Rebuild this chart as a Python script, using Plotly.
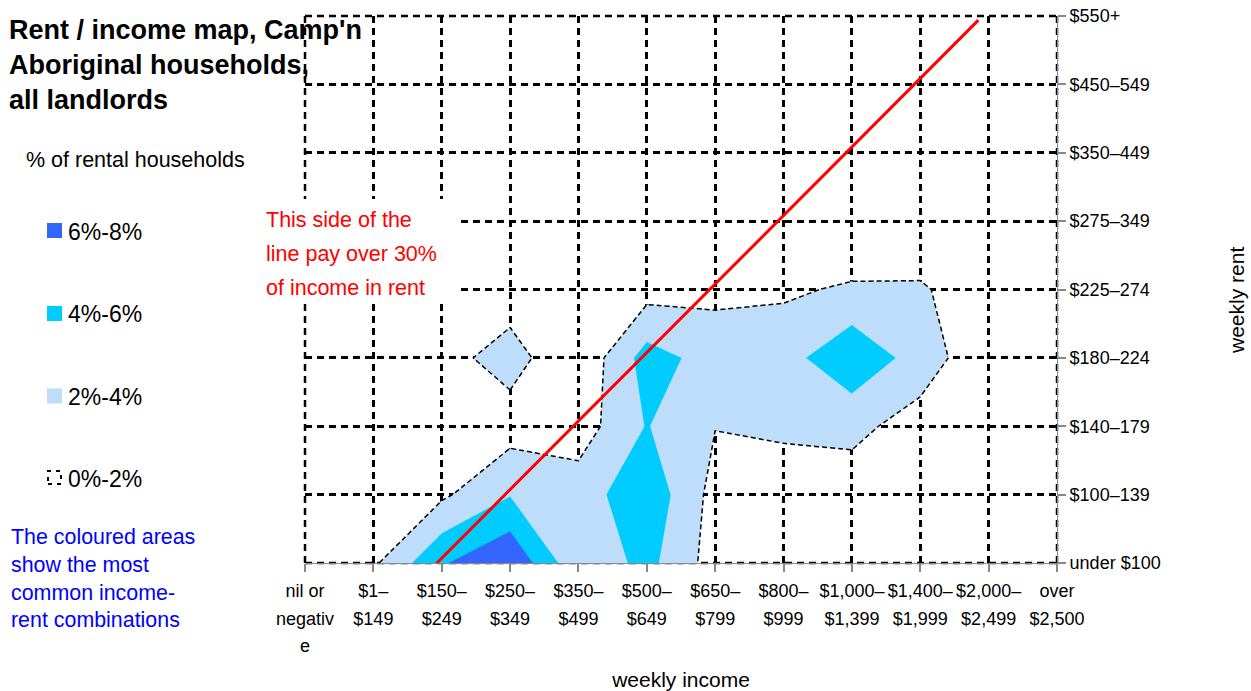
import plotly.graph_objects as go

# ---------------- data ----------------
income_labels = ["nil or<br>negativ<br>e", "$1–<br>$149", "$150–<br>$249", "$250–<br>$349",
                 "$350–<br>$499", "$500–<br>$649", "$650–<br>$799", "$800–<br>$999",
                 "$1,000–<br>$1,399", "$1,400–<br>$1,999", "$2,000–<br>$2,499", "over<br>$2,500"]
rent_labels = ["under $100", "$100–139", "$140–179", "$180–224", "$225–274",
               "$275–349", "$350–449", "$450–549", "$550+"]

# % of rental households, rows = rent bands (bottom to top), cols = income bands
share_pct = [
    [0.5, 1.65, 5.8, 7.8, 2.4, 4.62, 1.1, 0.3, 0.3, 0.2, 0.2, 0.2],
    [0.4, 1.2, 1.64, 3.9, 2.98, 5.46, 1.29, 0.2, 1.0, 0.5, 0.2, 0.2],
    [0.3, 0.3, 0.6, 1.1, 1.0, 4.1, 2.05, 2.6, 2.53, 1.17, 0.3, 0.2],
    [0.2, 0.3, 1.32, 2.8, 0.3, 4.85, 3.18, 3.2, 5.6, 3.1, 0.42, 0.2],
    [0.2, 0.2, 0.5, 1.0, 0.3, 1.2, 1.49, 1.7, 2.27, 2.3, 0.43, 0.2],
    [0.2, 0.2, 0.3, 0.3, 0.3, 0.5, 0.5, 0.5, 0.0, 0.0, 0.2, 0.2],
    [0.2, 0.2, 0.2, 0.2, 0.2, 0.2, 0.2, 0.2, 0.2, 0.2, 0.2, 0.2],
    [0.1, 0.1, 0.1, 0.1, 0.1, 0.1, 0.1, 0.1, 0.1, 0.1, 0.1, 0.1],
    [0.1, 0.1, 0.1, 0.1, 0.1, 0.1, 0.1, 0.1, 0.1, 0.1, 0.1, 0.1],
]

band_names = ["6%-8%", "4%-6%", "2%-4%", "0%-2%"]
band_colors = ["#3366FF", "#00CCFF", "#BDDDFB", "rgba(255,255,255,0)"]

# 30%-of-income reference line (category coordinates)
line30_income = [1.87, 9.85]
line30_rent = [-0.06, 7.94]

# ---------------- figure ----------------
FONT = "Liberation Sans, Arial, sans-serif"
W, H = 1251, 691
L, R, T, B = 305, 194, 16, 128
PW, PH = W - L - R, H - T - B


def px(x):
    return (x - L) / PW


def py(y):
    return (H - B - y) / PH


xs = list(range(len(income_labels)))
ys = list(range(len(rent_labels)))

clear, light, cyan, blue = band_colors[3], band_colors[2], band_colors[1], band_colors[0]
cscale = [[0, clear], [1 / 6, clear], [1 / 6, light], [0.5, light],
          [0.5, cyan], [5 / 6, cyan], [5 / 6, blue], [1, blue]]

fig = go.Figure()
fig.add_trace(go.Contour(
    z=share_pct, x=xs, y=ys,
    contours=dict(start=2, end=6, size=2, coloring="fill", showlines=False),
    colorscale=cscale, showscale=False,
    line=dict(width=0, smoothing=0), hoverinfo="skip",
))
fig.add_trace(go.Contour(
    z=share_pct, x=xs, y=ys,
    contours=dict(start=2, end=2, size=1, coloring="none", showlines=True),
    showscale=False,
    line=dict(color="black", width=1.5, dash="5px,3px", smoothing=0), hoverinfo="skip",
))
fig.add_trace(go.Scatter(
    x=line30_income, y=line30_rent, mode="lines",
    line=dict(color="#FF0000", width=3), cliponaxis=False, hoverinfo="skip",
))

tick_text = ["<br>".join('<span style="font-size:18px">%s</span>' % s for s in lab.split("<br>"))
             for lab in income_labels]

DASH = "7px,5px"
GRID = dict(showgrid=True, gridcolor="black", gridwidth=2.5, griddash=DASH,
            zeroline=False, showline=True, linecolor="#888888", linewidth=1,
            ticks="outside", ticklen=8, tickcolor="#888888", tickwidth=1.5,
            automargin=False)

fig.update_layout(
    width=W, height=H,
    margin=dict(l=L, r=R, t=T, b=B, pad=0, autoexpand=False),
    paper_bgcolor="white", plot_bgcolor="white",
    showlegend=False,
    font=dict(family=FONT, color="black"),
    xaxis=dict(range=[0, len(income_labels) - 1], tickvals=xs, ticktext=tick_text,
               tickfont=dict(size=21, family=FONT, color="black"),
               title=dict(text="weekly income", font=dict(size=21), standoff=18),
               **GRID),
    yaxis=dict(range=[0, len(rent_labels) - 1], tickvals=ys, ticktext=rent_labels, side="right",
               tickfont=dict(size=18, family=FONT, color="black"),
               **GRID),
)

shapes = []
annotations = []

# dashed grid lines on the plot edges
for (x0, y0, x1, y1) in [(0, 0, 0, 1), (0, 1, 1, 1), (1, 0, 1, 1), (0, 0, 1, 0)]:
    shapes.append(dict(type="line", xref="paper", yref="paper", layer="below",
                       x0=x0, y0=y0, x1=x1, y1=y1,
                       line=dict(color="black", width=2.5, dash=DASH)))

# white box behind the red note
shapes.append(dict(type="rect", xref="paper", yref="paper", layer="above",
                   x0=px(258), x1=px(458), y0=py(302), y1=py(199),
                   fillcolor="white", line=dict(width=0)))

# title
annotations.append(dict(
    xref="paper", yref="paper", x=px(7), y=py(13), xanchor="left", yanchor="top",
    align="left", showarrow=False,
    text="<b>Rent / income map, Camp'n<br>Aboriginal households,<br>all landlords</b>",
    font=dict(size=27, family=FONT, color="black")))

# red note
annotations.append(dict(
    xref="paper", yref="paper", x=px(264), y=py(254), xanchor="left", yanchor="middle",
    align="left", showarrow=False,
    text="<br>".join('<span style="font-size:21.5px">%s</span>' % s for s in
                     ["This side of the", "line pay over 30%", "of income in rent"]),
    font=dict(size=26, family=FONT, color="#FF0000")))

# blue note
annotations.append(dict(
    xref="paper", yref="paper", x=px(9), y=py(578), xanchor="left", yanchor="middle",
    align="left", showarrow=False,
    text="The coloured areas<br>show the most<br>common income-<br>rent combinations",
    font=dict(size=21.4, family=FONT, color="#0000FF")))

# y axis title (placed as in the reference)
annotations.append(dict(
    xref="paper", yref="paper", x=px(1236), y=py(301), xanchor="center", yanchor="middle",
    textangle=-90, showarrow=False, text="weekly rent",
    font=dict(size=21, family=FONT, color="black")))

# legend title
annotations.append(dict(
    xref="paper", yref="paper", x=px(24), y=py(160), xanchor="left", yanchor="middle",
    showarrow=False, text="% of rental households",
    font=dict(size=21.5, family=FONT, color="black")))

legend_y = [230.5, 313.5, 396, 477.5]
for name, col, yc in zip(band_names, band_colors, legend_y):
    if name == "0%-2%":
        shapes.append(dict(type="rect", xref="paper", yref="paper", layer="above",
                           x0=px(48), x1=px(61), y0=py(yc + 6.5), y1=py(yc - 6.5),
                           fillcolor="white", line=dict(color="black", width=2, dash="4px,5px")))
    else:
        shapes.append(dict(type="rect", xref="paper", yref="paper", layer="above",
                           x0=px(47), x1=px(62), y0=py(yc + 7.5), y1=py(yc - 7.5),
                           fillcolor=col, line=dict(width=0)))
    annotations.append(dict(
        xref="paper", yref="paper", x=px(66), y=py(yc + 1), xanchor="left", yanchor="middle",
        showarrow=False, text=name, font=dict(size=23, family=FONT, color="black")))

fig.update_layout(shapes=shapes, annotations=annotations)

fig.write_html("out.html", config={"displayModeBar": False},
               post_script="document.body.style.margin='0px';")
